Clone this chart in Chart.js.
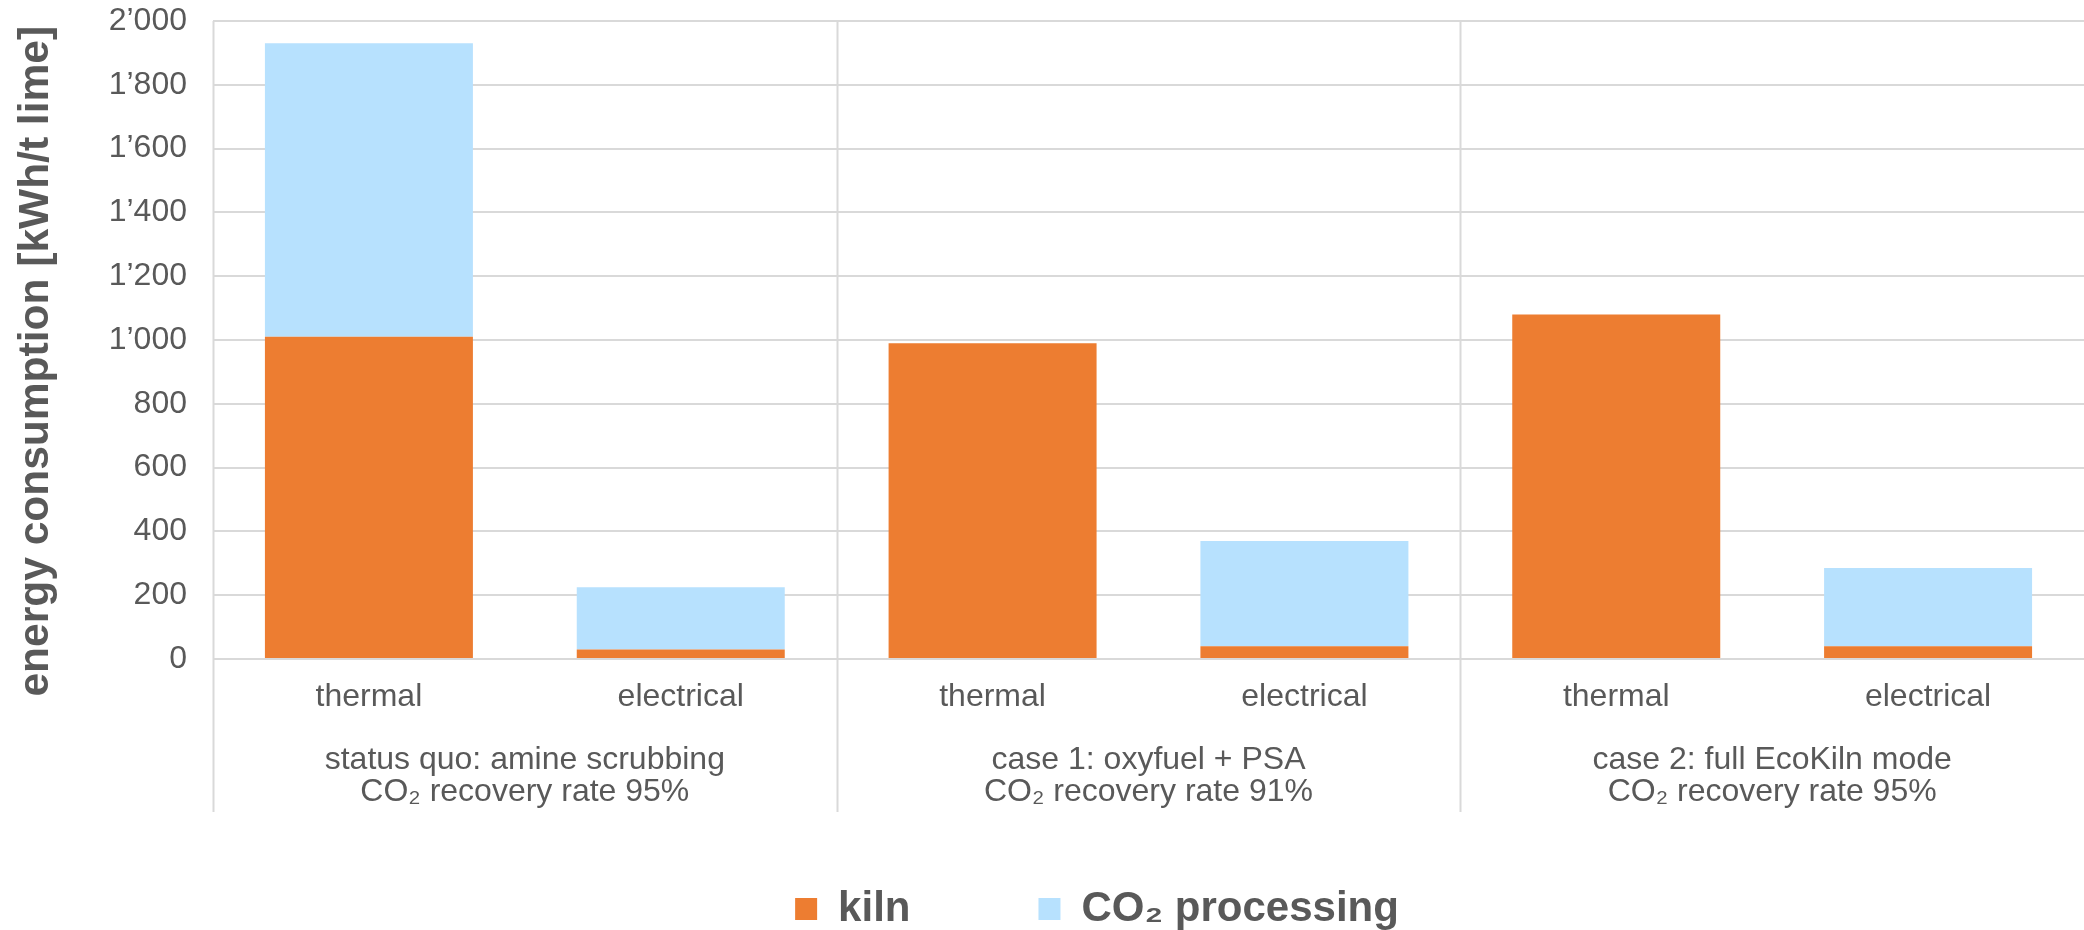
<!DOCTYPE html>
<html>
<head>
<meta charset="utf-8">
<title>Energy consumption by capture route</title>
<script src="https://cdn.jsdelivr.net/npm/chart.js@4/dist/chart.umd.min.js"></script>
<style>
  html, body { margin: 0; padding: 0; background: #ffffff; }
  #wrap { width: 2084px; height: 930px; position: relative; }
</style>
</head>
<body>
<div id="wrap"><canvas id="chart" width="2084" height="930"></canvas></div>
<script>
// Sub-categories along the x axis (two per capture route)
const energyTypes = ['thermal', 'electrical', 'thermal', 'electrical', 'thermal', 'electrical'];

// Capture routes, each spanning two sub-categories
const routeLabels = [
  ['status quo: amine scrubbing', 'CO\u2082 recovery rate 95%'],
  ['case 1: oxyfuel + PSA', 'CO\u2082 recovery rate 91%'],
  ['case 2: full EcoKiln mode', 'CO\u2082 recovery rate 95%']
];

// Energy consumption in kWh per tonne of lime
const kilnValues = [1010, 30, 990, 40, 1080, 40];
const co2ProcessingValues = [920, 195, 0, 330, 0, 245];

// Y axis tick values
const yTickValues = [0, 200, 400, 600, 800, 1000, 1200, 1400, 1600, 1800, 2000];

const seriesNames = ['kiln', 'CO\u2082 processing'];
const seriesColors = ['#ED7D31', '#B7E1FE'];

const FONT = "'Liberation Sans', Arial, Helvetica, sans-serif";
const TEXT = '#595959';
const GRID = '#D9D9D9';

// Thousands separator written as a typographic apostrophe: 1’800
function formatTick(v) {
  return String(v).replace(/\B(?=(\d{3})+(?!\d))/g, '\u2019');
}

// Depth of the two-row label band below the plot
const LABEL_BAND = 153;

const routeSeparators = {
  id: 'routeSeparators',
  // let the route labels use the full band under the sub-category row
  afterLayout(chart) {
    const route = chart.scales.route;
    route.bottom = chart.chartArea.bottom + LABEL_BAND;
    route.height = route.bottom - route.top;
  },
  // vertical separators between capture routes, from the plot top through both label rows
  beforeDatasetsDraw(chart) {
    const {ctx, chartArea} = chart;
    const x = chart.scales.x;
    const bottom = chartArea.bottom + LABEL_BAND;
    const xs = [chartArea.left];
    for (let i = 1; i + 1 < energyTypes.length; i += 2) {
      xs.push((x.getPixelForValue(i) + x.getPixelForValue(i + 1)) / 2);
    }
    ctx.save();
    ctx.strokeStyle = GRID;
    ctx.lineWidth = 2;
    xs.forEach(px => {
      ctx.beginPath();
      ctx.moveTo(Math.round(px) + 0.5, chartArea.top);
      ctx.lineTo(Math.round(px) + 0.5, bottom);
      ctx.stroke();
    });
    ctx.restore();
  }
};

new Chart(document.getElementById('chart'), {
  type: 'bar',
  data: {
    labels: energyTypes,
    datasets: [
      {
        label: seriesNames[0],
        data: kilnValues,
        backgroundColor: seriesColors[0],
        borderWidth: 0,
        categoryPercentage: 1,
        barPercentage: 0.667
      },
      {
        label: seriesNames[1],
        data: co2ProcessingValues,
        backgroundColor: seriesColors[1],
        borderWidth: 0,
        categoryPercentage: 1,
        barPercentage: 0.667
      }
    ]
  },
  options: {
    responsive: false,
    animation: false,
    layout: { padding: { top: 21, left: 110, right: 0, bottom: -10 } },
    plugins: {
      tooltip: { enabled: false },
      legend: {
        position: 'bottom',
        labels: {
          color: TEXT,
          font: { family: FONT, size: 42, weight: 'bold' },
          boxWidth: 22,
          boxHeight: 22,
          padding: 128
        }
      }
    },
    scales: {
      x: {
        type: 'category',
        position: 'bottom',
        stacked: true,
        grid: { display: false, drawTicks: false },
        border: { display: false },
        ticks: {
          color: TEXT,
          font: { family: FONT, size: 32, lineHeight: 1.2 },
          padding: 19,
          maxRotation: 0,
          autoSkip: false
        },
        afterFit(scale) {
          scale.height = 60;
          scale.paddingLeft = 0;
          scale.paddingRight = 0;
        }
      },
      route: {
        type: 'category',
        position: 'bottom',
        labels: routeLabels,
        offset: true,
        grid: { display: false, drawTicks: false },
        border: { display: false },
        ticks: {
          color: TEXT,
          font: { family: FONT, size: 32, lineHeight: 1.0 },
          padding: 25,
          maxRotation: 0,
          autoSkip: false
        },
        afterFit(scale) {
          scale.height = 41;
          scale.paddingLeft = 0;
          scale.paddingRight = 0;
        }
      },
      y: {
        stacked: true,
        min: 0,
        max: 2000,
        afterBuildTicks(scale) {
          scale.ticks = yTickValues.map(v => ({ value: v }));
        },
        grid: { color: GRID, lineWidth: 2, drawTicks: false },
        border: { display: false },
        ticks: {
          color: TEXT,
          font: { family: FONT, size: 32 },
          padding: 26,
          callback: v => formatTick(v)
        },
        title: {
          display: true,
          text: 'energy consumption [kWh/t lime]\u2003',
          color: TEXT,
          font: { family: FONT, size: 42.5, weight: 'bold', lineHeight: 1.2 },
          padding: { top: -99, bottom: 0 }
        },
        afterFit(scale) {
          scale.width = 103;
          scale.paddingTop = 0;
          scale.paddingBottom = 0;
        }
      }
    }
  },
  plugins: [routeSeparators]
});
</script>
</body>
</html>
